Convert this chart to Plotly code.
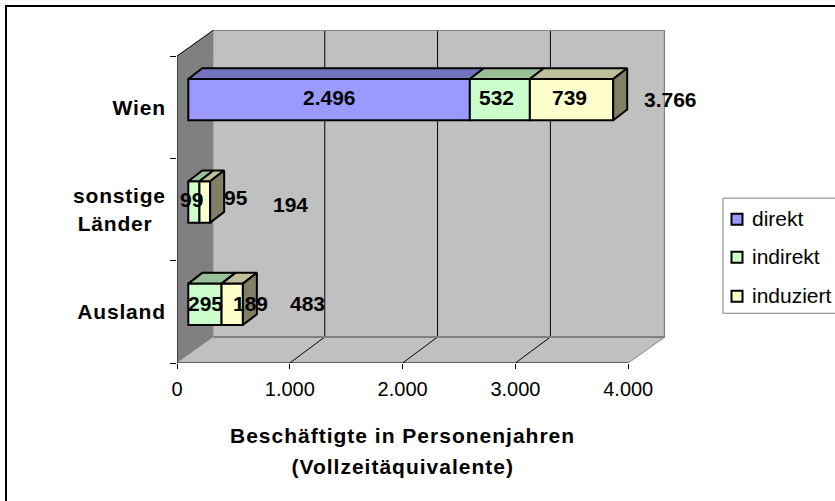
import plotly.graph_objects as go

# Categories bottom to top, as the y axis runs
categories = ["Ausland", "sonstige<br>Länder&nbsp;&nbsp;", "Wien"]
positions = [0, 1, 2]
direkt = [None, None, 2496]
indirekt = [295, 99, 532]
induziert = [189, 95, 739]
totals = [483, 194, 3766]
series_names = ["direkt", "indirekt", "induziert"]
x_ticks = [0, 1000, 2000, 3000, 4000]
x_labels = ["0", "1.000", "2.000", "3.000", "4.000"]

FONT = "Liberation Sans, Arial, sans-serif"
front = ["#9999FF", "#CCFFCC", "#FFFFCC"]
top = ["#7373BF", "#99BF99", "#BFBF99"]
SIDE = "#808066"
WALL = "#C0C0C0"
SIDE_WALL = "#808080"

# 112.8 px per 1000, 102.2 px per category
WALL_DX, WALL_DY = 324, 0.254    # depth of the plot box
GRID_DX = 310
BAR_X0, BAR_DY0 = 100, 0.074     # bars sit in the middle of the box
BAR_DX, BAR_DY = 124, 0.105      # depth of a bar
BAR_H = 0.404
X_MAX = 4326
Y_MIN, Y_MAX = -0.5, 2.755

# pixel nudges for the labels, Excel put some of them off centre
seg_shift = {"direkt": [0, 0, 0], "indirekt": [1, -2, -3], "induziert": [18, 31, -2]}
seg_lift = {"direkt": [0, 0, 2.5], "indirekt": [1, 2, 2.5], "induziert": [1, 4, 2.5]}
total_shift = [65, 80, 57]
total_lift = [1, -2.5, 0]

fig = go.Figure()
shapes = []

# Walls and floor
shapes.append(dict(type="path", layer="below", fillcolor=WALL, line_width=0,
                   path=f"M {WALL_DX} {-0.5 + WALL_DY} L {4000 + WALL_DX} {-0.5 + WALL_DY} "
                        f"L {4000 + WALL_DX} {Y_MAX} L {WALL_DX} {Y_MAX} Z"))
shapes.append(dict(type="path", layer="below", fillcolor=WALL, line_width=0,
                   path=f"M 0 -0.5 L 4000 -0.5 L {4000 + WALL_DX} {-0.5 + WALL_DY} L {WALL_DX} {-0.5 + WALL_DY} Z"))
shapes.append(dict(type="path", layer="below", fillcolor=SIDE_WALL, line_width=0,
                   path=f"M 0 -0.5 L {WALL_DX} {-0.5 + WALL_DY} L {WALL_DX} {Y_MAX} L 0 2.5 Z"))
for v in x_ticks[1:4]:
    shapes.append(dict(type="line", layer="below", x0=v + GRID_DX, x1=v + GRID_DX, y0=-0.5 + WALL_DY, y1=Y_MAX,
                       line=dict(color="black", width=1)))
    shapes.append(dict(type="line", layer="below", x0=v, x1=v + GRID_DX, y0=-0.5, y1=-0.5 + WALL_DY,
                       line=dict(color="black", width=1)))
# grey outline round the wall and floor
shapes.append(dict(type="path", layer="below", line=dict(color=SIDE_WALL, width=2),
                   path=f"M {WALL_DX} {Y_MAX} L {4000 + WALL_DX} {Y_MAX} L {4000 + WALL_DX} {-0.5 + WALL_DY} "
                        f"L {WALL_DX} {-0.5 + WALL_DY}"))
shapes.append(dict(type="line", layer="below", x0=4000, x1=4000 + WALL_DX, y0=-0.5, y1=-0.5 + WALL_DY,
                   line=dict(color=SIDE_WALL, width=1)))
shapes.append(dict(type="line", layer="below", x0=0, x1=WALL_DX, y0=2.5, y1=Y_MAX, line=dict(color="black", width=1)))
# axis lines
shapes.append(dict(type="line", layer="below", x0=0, x1=4000, y0=-0.5, y1=-0.5, line=dict(color="black", width=1)))
shapes.append(dict(type="line", layer="below", x0=0, x1=0, y0=-0.5, y1=2.5, line=dict(color="black", width=1)))

# Segments, each with its top face, plus the end face of the last one
ys = [p + BAR_DY0 for p in positions]
running = [BAR_X0] * 3
for name, vals, c_front, c_top in zip(series_names, [direkt, indirekt, induziert], front, top):
    bases = list(running)
    fig.add_trace(go.Bar(y=ys, x=vals, base=bases, orientation="h", width=BAR_H, name=name,
                         marker=dict(color=c_front, line=dict(color="black", width=2))))
    for i, v in enumerate(vals):
        if v is None:
            continue
        t = ys[i] + BAR_H / 2
        fig.add_trace(go.Scatter(
            x=[bases[i], bases[i] + v, bases[i] + v + BAR_DX, bases[i] + BAR_DX, bases[i]],
            y=[t, t, t + BAR_DY, t + BAR_DY, t],
            mode="lines", fill="toself", fillcolor=c_top, line=dict(color="black", width=2),
            hoverinfo="skip", showlegend=False))
        running[i] += v

for i, end in enumerate(running):
    t, b = ys[i] + BAR_H / 2, ys[i] - BAR_H / 2
    fig.add_trace(go.Scatter(
        x=[end, end + BAR_DX, end + BAR_DX, end, end],
        y=[b, b + BAR_DY, t + BAR_DY, t, b],
        mode="lines", fill="toself", fillcolor=SIDE, line=dict(color="black", width=2),
        hoverinfo="skip", showlegend=False))

# Value labels
annotations = []
def label(x, y, text, shift=0, lift=0):
    annotations.append(dict(x=x, y=y, text=f"<b>{text}</b>", showarrow=False, xshift=shift, yshift=lift,
                            font=dict(family=FONT, size=21, color="black")))

def fmt(v):
    return f"{v:,}".replace(",", ".")

running = [BAR_X0] * 3
for name, vals in zip(series_names, [direkt, indirekt, induziert]):
    for i, v in enumerate(vals):
        if v is None:
            continue
        label(running[i] + v / 2, ys[i], fmt(v), seg_shift[name][i], seg_lift[name][i])
        running[i] += v
for i, v in enumerate(totals):
    label(running[i], ys[i], fmt(v), total_shift[i], total_lift[i])

# Paper fractions from pixel positions
def px(x):
    return (x - 177) / 488

def py(y):
    return (501 - 138.3 - y) / 332.7

# Axis title, two lines
for text, title_y in [("Beschäftigte in Personenjahren", 435), ("(Vollzeitäquivalente)", 466)]:
    annotations.append(dict(xref="paper", yref="paper", x=px(402), y=py(title_y), yanchor="middle",
                            text=f"<b>{text}</b>", showarrow=False,
                            font=dict(family=FONT, size=21, color="black")))

# Outer frame and legend box
shapes.append(dict(type="rect", xref="paper", yref="paper", x0=px(6), x1=px(840), y0=py(6), y1=py(510),
                   line=dict(color="black", width=2), layer="below"))
shapes.append(dict(type="rect", xref="paper", yref="paper", x0=px(723), x1=px(840), y0=py(198), y1=py(313),
                   line=dict(color="#808080", width=1), fillcolor="white", layer="below"))
for name, color, cy in zip(series_names, front, [219, 257, 296]):
    shapes.append(dict(type="rect", xref="paper", yref="paper", x0=px(731.5), x1=px(742.5), y0=py(cy - 5.5), y1=py(cy + 5.5),
                       fillcolor=color, line=dict(color="black", width=2)))
    annotations.append(dict(xref="paper", yref="paper", x=px(749.5), y=py(cy - 1), xanchor="left", yanchor="middle",
                            text=name, showarrow=False, font=dict(family=FONT, size=21, color="black")))

fig.update_layout(
    width=835, height=501, autosize=False,
    paper_bgcolor="white", plot_bgcolor="rgba(0,0,0,0)",
    margin=dict(l=177, r=170, t=30, b=138.3),
    barmode="overlay", showlegend=False,
    shapes=shapes, annotations=annotations,
    font=dict(family=FONT, color="black"),
    xaxis=dict(range=[0, X_MAX], tickmode="array", tickvals=x_ticks, ticktext=x_labels, showgrid=False, zeroline=False,
               showline=False, ticks="outside", ticklen=5, tickcolor="black", tickfont=dict(size=20),
               ticklabelstandoff=3),
    yaxis=dict(range=[Y_MIN, Y_MAX], tickmode="array", tickvals=positions, ticktext=[f"<b>{c}</b>" for c in categories],
               showgrid=False, zeroline=False, showline=False, ticks="outside", ticklen=6, tickwidth=0,
               tickcolor="rgba(0,0,0,0)", tickfont=dict(size=21),
               minor=dict(tickmode="array", tickvals=[-0.5, 0.5, 1.5, 2.5], ticks="outside", ticklen=6,
                          tickcolor="black", tickwidth=1, showgrid=False)),
)

# Excel spaces its bold axis text wider than the browser does
spacing = """
document.body.style.margin = '0';
document.querySelectorAll('text').forEach(function (t) {
  if (/Beschäftigte|Vollzeit/.test(t.textContent)) t.style.letterSpacing = '1px';
  if (t.closest('.ytick')) t.style.letterSpacing = '0.8px';
});
"""
fig.write_html("out.html", config=dict(displayModeBar=False), post_script=spacing)
